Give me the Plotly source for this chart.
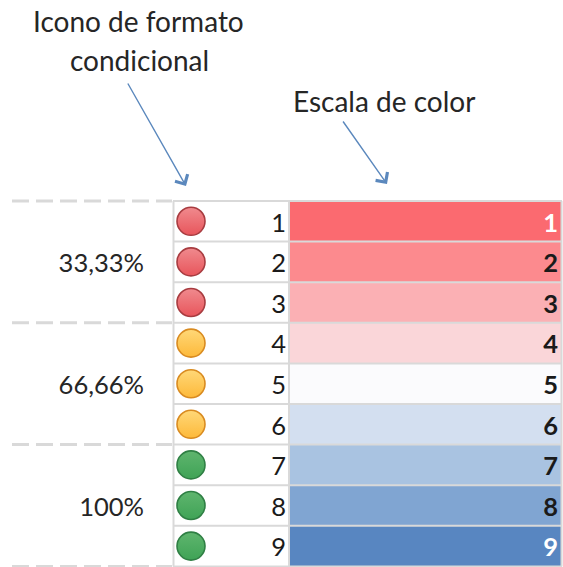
import plotly.graph_objects as go

values = [1, 2, 3, 4, 5, 6, 7, 8, 9]
scale_colors = ["#FB6A70", "#FC8A8E", "#FBB0B4", "#FAD6D9", "#FBFBFD",
                "#D3DFF0", "#A9C3E1", "#80A5D2", "#5886C1"]
scale_text_colors = ["#FFFFFF"] + ["#1A1A1A"] * 7 + ["#FFFFFF"]
icon_fill = ["#F08A8E"] * 3 + ["#FFD878"] * 3 + ["#5FB56E"] * 3
icon_end = ["#E8555B"] * 3 + ["#FDB93A"] * 3 + ["#3FA356"] * 3
icon_line = ["#A83C40"] * 3 + ["#D98B20"] * 3 + ["#2F7F44"] * 3
percent_labels = ["33,33%", "66,66%", "100%"]
percent_rows = [2, 5, 8]
separators = [0.5, 3.5, 6.5, 9.5]
row_lines = [0.5, 1.5, 2.5, 3.5, 4.5, 5.5, 6.5, 7.5, 8.5, 9.5]

W, H = 563, 567
FONT = "Lato"
TXT = "#262626"
GRID = "#D9D9D9"
ROW_PX = 40.6
TOP_PX = 201
TEXT_DY = 4 / ROW_PX  # cell text sits slightly below the row centre


def row_at(py):
    return (py - TOP_PX) / ROW_PX + 0.5


text_rows = [v + TEXT_DY for v in values]
percent_text_rows = [v + TEXT_DY for v in percent_rows]

fig = go.Figure()

fig.add_trace(go.Bar(
    y=values, x=[271] * 9, base=[290] * 9, width=1, orientation="h",
    marker=dict(color=scale_colors, line=dict(width=0)),
    showlegend=False, hoverinfo="skip",
))

# Conditional-format icons
fig.add_trace(go.Scatter(
    x=[191] * 9, y=values, mode="markers",
    marker=dict(size=28, color=icon_fill,
                gradient=dict(type="vertical", color=icon_end),
                line=dict(color=icon_line, width=1.6)),
    showlegend=False, hoverinfo="skip",
))

# Plain values column
fig.add_trace(go.Scatter(
    x=[286] * 9, y=text_rows, mode="text", text=[str(v) for v in values],
    textposition="middle left",
    textfont=dict(family=FONT, size=25.5, color="#1A1A1A"),
    showlegend=False, hoverinfo="skip",
))

# Colour-scale values column
fig.add_trace(go.Scatter(
    x=[558] * 9, y=text_rows, mode="text",
    text=[f"<b>{v}</b>" for v in values],
    textposition="middle left",
    textfont=dict(family=FONT, size=25.5, color=scale_text_colors),
    showlegend=False, hoverinfo="skip",
))

# Percent labels
fig.add_trace(go.Scatter(
    x=[144] * 3, y=percent_text_rows, mode="text", text=percent_labels,
    textposition="middle left",
    textfont=dict(family=FONT, size=25.5, color=TXT),
    showlegend=False, hoverinfo="skip",
))

shapes = []
for r in row_lines:
    shapes.append(dict(type="line", xref="x", yref="y", x0=173, x1=562, y0=r, y1=r,
                       line=dict(color=GRID, width=2), layer="above"))
for x in (173.5, 289, 561.5):
    shapes.append(dict(type="line", xref="x", yref="y", x0=x, x1=x,
                       y0=row_lines[0], y1=row_lines[-1],
                       line=dict(color=GRID, width=2), layer="above"))
for r in separators:
    shapes.append(dict(type="line", xref="x", yref="y", x0=12, x1=172, y0=r, y1=r,
                       line=dict(color=GRID, width=3, dash="17px,7px"), layer="above"))


def ann(text, x, py):
    return dict(text=text, x=x, y=row_at(py), xref="x", yref="y", showarrow=False,
                font=dict(family=FONT, size=28, color=TXT), xanchor="center", yanchor="middle")


def arrow(x0, y0, x1, y1):
    return dict(x=x1, y=row_at(y1), ax=x0, ay=row_at(y0), xref="x", yref="y",
                axref="x", ayref="y", text="", showarrow=True, arrowhead=4,
                arrowsize=2, arrowwidth=1.4, arrowcolor="#5B88BD")


annotations = [
    ann("Icono de formato", 138, 21),
    ann("condicional", 139, 60),
    ann("Escala de color", 384, 101),
    arrow(127, 82, 186, 186),
    arrow(342, 120, 387, 184),
]

fig.update_layout(
    width=W, height=H, margin=dict(l=0, r=0, t=0, b=0),
    paper_bgcolor="white", plot_bgcolor="white",
    xaxis=dict(range=[0, W], visible=False, fixedrange=True),
    yaxis=dict(range=[row_at(H), row_at(0)], visible=False, fixedrange=True),
    shapes=shapes, annotations=annotations, showlegend=False, bargap=0,
)

fig.write_html("out.html", config={"displayModeBar": False},
               post_script='document.body.style.margin="0";document.documentElement.style.overflow="hidden";')
